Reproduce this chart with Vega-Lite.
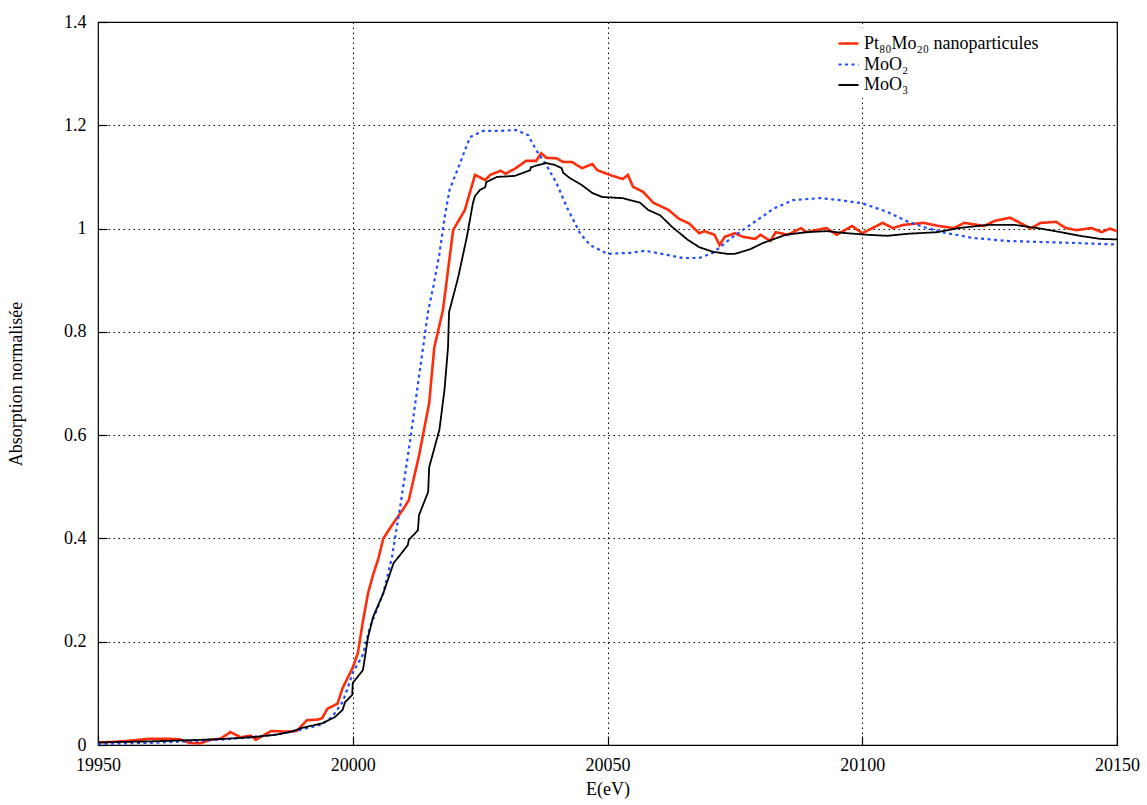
{
  "$schema": "https://vega.github.io/schema/vega-lite/v6.json",
  "width": 1019,
  "height": 723,
  "autosize": {"type": "none"},
  "padding": {"left": 98, "top": 22, "right": 30, "bottom": 60},
  "background": "white",
  "config": {
    "font": "Liberation Serif",
    "view": {"stroke": "black", "strokeWidth": 1.2},
    "axis": {
      "labelFont": "Liberation Serif",
      "titleFont": "Liberation Serif",
      "labelFontSize": 18,
      "titleFontSize": 18,
      "titleFontWeight": "normal",
      "labelColor": "black",
      "titleColor": "black",
      "labelFlush": false,
      "labelOverlap": false,
      "domain": false,
      "grid": true,
      "gridColor": "black",
      "gridDash": [1.5, 3.5],
      "gridWidth": 1,
      "gridOpacity": 1,
      "tickColor": "black",
      "tickSize": -9,
      "tickWidth": 1.2
    },
    "legend": {
      "labelFont": "Liberation Serif",
      "labelFontSize": 18,
      "labelColor": "black",
      "labelLimit": 0
    }
  },
  "data": {
    "values": [
      {"s": "Pt₈₀Mo₂₀ nanoparticules", "E": 19950, "A": 0.005},
      {"s": "Pt₈₀Mo₂₀ nanoparticules", "E": 19953, "A": 0.006},
      {"s": "Pt₈₀Mo₂₀ nanoparticules", "E": 19956, "A": 0.008},
      {"s": "Pt₈₀Mo₂₀ nanoparticules", "E": 19960, "A": 0.012},
      {"s": "Pt₈₀Mo₂₀ nanoparticules", "E": 19964, "A": 0.012},
      {"s": "Pt₈₀Mo₂₀ nanoparticules", "E": 19966, "A": 0.011},
      {"s": "Pt₈₀Mo₂₀ nanoparticules", "E": 19968, "A": 0.004},
      {"s": "Pt₈₀Mo₂₀ nanoparticules", "E": 19970, "A": 0.003},
      {"s": "Pt₈₀Mo₂₀ nanoparticules", "E": 19972, "A": 0.010},
      {"s": "Pt₈₀Mo₂₀ nanoparticules", "E": 19974, "A": 0.012},
      {"s": "Pt₈₀Mo₂₀ nanoparticules", "E": 19976, "A": 0.025},
      {"s": "Pt₈₀Mo₂₀ nanoparticules", "E": 19978, "A": 0.015},
      {"s": "Pt₈₀Mo₂₀ nanoparticules", "E": 19980, "A": 0.018},
      {"s": "Pt₈₀Mo₂₀ nanoparticules", "E": 19981, "A": 0.010},
      {"s": "Pt₈₀Mo₂₀ nanoparticules", "E": 19984, "A": 0.027},
      {"s": "Pt₈₀Mo₂₀ nanoparticules", "E": 19987, "A": 0.026},
      {"s": "Pt₈₀Mo₂₀ nanoparticules", "E": 19989, "A": 0.027},
      {"s": "Pt₈₀Mo₂₀ nanoparticules", "E": 19991, "A": 0.048},
      {"s": "Pt₈₀Mo₂₀ nanoparticules", "E": 19993, "A": 0.049},
      {"s": "Pt₈₀Mo₂₀ nanoparticules", "E": 19994, "A": 0.052},
      {"s": "Pt₈₀Mo₂₀ nanoparticules", "E": 19995, "A": 0.070},
      {"s": "Pt₈₀Mo₂₀ nanoparticules", "E": 19997, "A": 0.080},
      {"s": "Pt₈₀Mo₂₀ nanoparticules", "E": 19998, "A": 0.110},
      {"s": "Pt₈₀Mo₂₀ nanoparticules", "E": 20000, "A": 0.150},
      {"s": "Pt₈₀Mo₂₀ nanoparticules", "E": 20001, "A": 0.178},
      {"s": "Pt₈₀Mo₂₀ nanoparticules", "E": 20002, "A": 0.240},
      {"s": "Pt₈₀Mo₂₀ nanoparticules", "E": 20003, "A": 0.294},
      {"s": "Pt₈₀Mo₂₀ nanoparticules", "E": 20004, "A": 0.330},
      {"s": "Pt₈₀Mo₂₀ nanoparticules", "E": 20005, "A": 0.360},
      {"s": "Pt₈₀Mo₂₀ nanoparticules", "E": 20006, "A": 0.400},
      {"s": "Pt₈₀Mo₂₀ nanoparticules", "E": 20008, "A": 0.430},
      {"s": "Pt₈₀Mo₂₀ nanoparticules", "E": 20010, "A": 0.458},
      {"s": "Pt₈₀Mo₂₀ nanoparticules", "E": 20011, "A": 0.474},
      {"s": "Pt₈₀Mo₂₀ nanoparticules", "E": 20013, "A": 0.560},
      {"s": "Pt₈₀Mo₂₀ nanoparticules", "E": 20015, "A": 0.662},
      {"s": "Pt₈₀Mo₂₀ nanoparticules", "E": 20016, "A": 0.770},
      {"s": "Pt₈₀Mo₂₀ nanoparticules", "E": 20017.7, "A": 0.842},
      {"s": "Pt₈₀Mo₂₀ nanoparticules", "E": 20019.7, "A": 0.997},
      {"s": "Pt₈₀Mo₂₀ nanoparticules", "E": 20022, "A": 1.036},
      {"s": "Pt₈₀Mo₂₀ nanoparticules", "E": 20024, "A": 1.104},
      {"s": "Pt₈₀Mo₂₀ nanoparticules", "E": 20026, "A": 1.094},
      {"s": "Pt₈₀Mo₂₀ nanoparticules", "E": 20027, "A": 1.104},
      {"s": "Pt₈₀Mo₂₀ nanoparticules", "E": 20029, "A": 1.112},
      {"s": "Pt₈₀Mo₂₀ nanoparticules", "E": 20030, "A": 1.106},
      {"s": "Pt₈₀Mo₂₀ nanoparticules", "E": 20032, "A": 1.117},
      {"s": "Pt₈₀Mo₂₀ nanoparticules", "E": 20034, "A": 1.131},
      {"s": "Pt₈₀Mo₂₀ nanoparticules", "E": 20036, "A": 1.131},
      {"s": "Pt₈₀Mo₂₀ nanoparticules", "E": 20037, "A": 1.146},
      {"s": "Pt₈₀Mo₂₀ nanoparticules", "E": 20038, "A": 1.137},
      {"s": "Pt₈₀Mo₂₀ nanoparticules", "E": 20040, "A": 1.136},
      {"s": "Pt₈₀Mo₂₀ nanoparticules", "E": 20041.3, "A": 1.129},
      {"s": "Pt₈₀Mo₂₀ nanoparticules", "E": 20043, "A": 1.129},
      {"s": "Pt₈₀Mo₂₀ nanoparticules", "E": 20045, "A": 1.117},
      {"s": "Pt₈₀Mo₂₀ nanoparticules", "E": 20047, "A": 1.125},
      {"s": "Pt₈₀Mo₂₀ nanoparticules", "E": 20048, "A": 1.113},
      {"s": "Pt₈₀Mo₂₀ nanoparticules", "E": 20051, "A": 1.102},
      {"s": "Pt₈₀Mo₂₀ nanoparticules", "E": 20053, "A": 1.096},
      {"s": "Pt₈₀Mo₂₀ nanoparticules", "E": 20054, "A": 1.104},
      {"s": "Pt₈₀Mo₂₀ nanoparticules", "E": 20055, "A": 1.081},
      {"s": "Pt₈₀Mo₂₀ nanoparticules", "E": 20057, "A": 1.071},
      {"s": "Pt₈₀Mo₂₀ nanoparticules", "E": 20059, "A": 1.050},
      {"s": "Pt₈₀Mo₂₀ nanoparticules", "E": 20062, "A": 1.036},
      {"s": "Pt₈₀Mo₂₀ nanoparticules", "E": 20064, "A": 1.019},
      {"s": "Pt₈₀Mo₂₀ nanoparticules", "E": 20066, "A": 1.010},
      {"s": "Pt₈₀Mo₂₀ nanoparticules", "E": 20068, "A": 0.991},
      {"s": "Pt₈₀Mo₂₀ nanoparticules", "E": 20069, "A": 0.995},
      {"s": "Pt₈₀Mo₂₀ nanoparticules", "E": 20071, "A": 0.988},
      {"s": "Pt₈₀Mo₂₀ nanoparticules", "E": 20072, "A": 0.968},
      {"s": "Pt₈₀Mo₂₀ nanoparticules", "E": 20073, "A": 0.984},
      {"s": "Pt₈₀Mo₂₀ nanoparticules", "E": 20075, "A": 0.991},
      {"s": "Pt₈₀Mo₂₀ nanoparticules", "E": 20076.6, "A": 0.984},
      {"s": "Pt₈₀Mo₂₀ nanoparticules", "E": 20079, "A": 0.980},
      {"s": "Pt₈₀Mo₂₀ nanoparticules", "E": 20080, "A": 0.988},
      {"s": "Pt₈₀Mo₂₀ nanoparticules", "E": 20082, "A": 0.976},
      {"s": "Pt₈₀Mo₂₀ nanoparticules", "E": 20083, "A": 0.993},
      {"s": "Pt₈₀Mo₂₀ nanoparticules", "E": 20085.4, "A": 0.988},
      {"s": "Pt₈₀Mo₂₀ nanoparticules", "E": 20088, "A": 1.001},
      {"s": "Pt₈₀Mo₂₀ nanoparticules", "E": 20089, "A": 0.993},
      {"s": "Pt₈₀Mo₂₀ nanoparticules", "E": 20093, "A": 1.001},
      {"s": "Pt₈₀Mo₂₀ nanoparticules", "E": 20095, "A": 0.988},
      {"s": "Pt₈₀Mo₂₀ nanoparticules", "E": 20098, "A": 1.005},
      {"s": "Pt₈₀Mo₂₀ nanoparticules", "E": 20100, "A": 0.991},
      {"s": "Pt₈₀Mo₂₀ nanoparticules", "E": 20102, "A": 1.001},
      {"s": "Pt₈₀Mo₂₀ nanoparticules", "E": 20104, "A": 1.011},
      {"s": "Pt₈₀Mo₂₀ nanoparticules", "E": 20106, "A": 1.001},
      {"s": "Pt₈₀Mo₂₀ nanoparticules", "E": 20108, "A": 1.007},
      {"s": "Pt₈₀Mo₂₀ nanoparticules", "E": 20112, "A": 1.011},
      {"s": "Pt₈₀Mo₂₀ nanoparticules", "E": 20115, "A": 1.005},
      {"s": "Pt₈₀Mo₂₀ nanoparticules", "E": 20118, "A": 1.001},
      {"s": "Pt₈₀Mo₂₀ nanoparticules", "E": 20120, "A": 1.011},
      {"s": "Pt₈₀Mo₂₀ nanoparticules", "E": 20124, "A": 1.005},
      {"s": "Pt₈₀Mo₂₀ nanoparticules", "E": 20126, "A": 1.015},
      {"s": "Pt₈₀Mo₂₀ nanoparticules", "E": 20129, "A": 1.021},
      {"s": "Pt₈₀Mo₂₀ nanoparticules", "E": 20131, "A": 1.011},
      {"s": "Pt₈₀Mo₂₀ nanoparticules", "E": 20133, "A": 1.000},
      {"s": "Pt₈₀Mo₂₀ nanoparticules", "E": 20135, "A": 1.011},
      {"s": "Pt₈₀Mo₂₀ nanoparticules", "E": 20138, "A": 1.013},
      {"s": "Pt₈₀Mo₂₀ nanoparticules", "E": 20140, "A": 1.001},
      {"s": "Pt₈₀Mo₂₀ nanoparticules", "E": 20142, "A": 0.997},
      {"s": "Pt₈₀Mo₂₀ nanoparticules", "E": 20145, "A": 1.001},
      {"s": "Pt₈₀Mo₂₀ nanoparticules", "E": 20147, "A": 0.993},
      {"s": "Pt₈₀Mo₂₀ nanoparticules", "E": 20148.6, "A": 1.000},
      {"s": "Pt₈₀Mo₂₀ nanoparticules", "E": 20150, "A": 0.995},

      {"s": "MoO₂", "E": 19950, "A": 0.002},
      {"s": "MoO₂", "E": 19955, "A": 0.003},
      {"s": "MoO₂", "E": 19960, "A": 0.004},
      {"s": "MoO₂", "E": 19965, "A": 0.006},
      {"s": "MoO₂", "E": 19970, "A": 0.008},
      {"s": "MoO₂", "E": 19975, "A": 0.011},
      {"s": "MoO₂", "E": 19980, "A": 0.015},
      {"s": "MoO₂", "E": 19985, "A": 0.020},
      {"s": "MoO₂", "E": 19990, "A": 0.030},
      {"s": "MoO₂", "E": 19994, "A": 0.040},
      {"s": "MoO₂", "E": 19996, "A": 0.055},
      {"s": "MoO₂", "E": 19998, "A": 0.083},
      {"s": "MoO₂", "E": 19999, "A": 0.110},
      {"s": "MoO₂", "E": 20000, "A": 0.140},
      {"s": "MoO₂", "E": 20002, "A": 0.175},
      {"s": "MoO₂", "E": 20003.4, "A": 0.229},
      {"s": "MoO₂", "E": 20006, "A": 0.294},
      {"s": "MoO₂", "E": 20007.7, "A": 0.364},
      {"s": "MoO₂", "E": 20009.3, "A": 0.461},
      {"s": "MoO₂", "E": 20011.2, "A": 0.585},
      {"s": "MoO₂", "E": 20012.6, "A": 0.685},
      {"s": "MoO₂", "E": 20014.8, "A": 0.840},
      {"s": "MoO₂", "E": 20015.8, "A": 0.887},
      {"s": "MoO₂", "E": 20017, "A": 0.950},
      {"s": "MoO₂", "E": 20018, "A": 1.020},
      {"s": "MoO₂", "E": 20019, "A": 1.075},
      {"s": "MoO₂", "E": 20020, "A": 1.100},
      {"s": "MoO₂", "E": 20021, "A": 1.125},
      {"s": "MoO₂", "E": 20023, "A": 1.177},
      {"s": "MoO₂", "E": 20025.6, "A": 1.189},
      {"s": "MoO₂", "E": 20029, "A": 1.189},
      {"s": "MoO₂", "E": 20032, "A": 1.191},
      {"s": "MoO₂", "E": 20034.4, "A": 1.181},
      {"s": "MoO₂", "E": 20036, "A": 1.152},
      {"s": "MoO₂", "E": 20038, "A": 1.123},
      {"s": "MoO₂", "E": 20040, "A": 1.088},
      {"s": "MoO₂", "E": 20042, "A": 1.042},
      {"s": "MoO₂", "E": 20044.6, "A": 0.991},
      {"s": "MoO₂", "E": 20046.6, "A": 0.968},
      {"s": "MoO₂", "E": 20050, "A": 0.951},
      {"s": "MoO₂", "E": 20054.4, "A": 0.953},
      {"s": "MoO₂", "E": 20057.4, "A": 0.957},
      {"s": "MoO₂", "E": 20061.7, "A": 0.949},
      {"s": "MoO₂", "E": 20064.8, "A": 0.943},
      {"s": "MoO₂", "E": 20068, "A": 0.943},
      {"s": "MoO₂", "E": 20070.7, "A": 0.953},
      {"s": "MoO₂", "E": 20074.6, "A": 0.984},
      {"s": "MoO₂", "E": 20078.6, "A": 1.011},
      {"s": "MoO₂", "E": 20082.5, "A": 1.038},
      {"s": "MoO₂", "E": 20086.4, "A": 1.055},
      {"s": "MoO₂", "E": 20091.7, "A": 1.059},
      {"s": "MoO₂", "E": 20095.6, "A": 1.055},
      {"s": "MoO₂", "E": 20100, "A": 1.049},
      {"s": "MoO₂", "E": 20105, "A": 1.032},
      {"s": "MoO₂", "E": 20109, "A": 1.013},
      {"s": "MoO₂", "E": 20112.7, "A": 1.001},
      {"s": "MoO₂", "E": 20116.6, "A": 0.991},
      {"s": "MoO₂", "E": 20121.7, "A": 0.982},
      {"s": "MoO₂", "E": 20128.4, "A": 0.976},
      {"s": "MoO₂", "E": 20135, "A": 0.974},
      {"s": "MoO₂", "E": 20142, "A": 0.972},
      {"s": "MoO₂", "E": 20150, "A": 0.969},

      {"s": "MoO₃", "E": 19950, "A": 0.005},
      {"s": "MoO₃", "E": 19960, "A": 0.007},
      {"s": "MoO₃", "E": 19970, "A": 0.010},
      {"s": "MoO₃", "E": 19975, "A": 0.012},
      {"s": "MoO₃", "E": 19980, "A": 0.015},
      {"s": "MoO₃", "E": 19985, "A": 0.020},
      {"s": "MoO₃", "E": 19988, "A": 0.026},
      {"s": "MoO₃", "E": 19990, "A": 0.033},
      {"s": "MoO₃", "E": 19994, "A": 0.042},
      {"s": "MoO₃", "E": 19996.5, "A": 0.054},
      {"s": "MoO₃", "E": 19998, "A": 0.068},
      {"s": "MoO₃", "E": 19998.5, "A": 0.083},
      {"s": "MoO₃", "E": 19999.9, "A": 0.097},
      {"s": "MoO₃", "E": 20000, "A": 0.120},
      {"s": "MoO₃", "E": 20002, "A": 0.145},
      {"s": "MoO₃", "E": 20003, "A": 0.209},
      {"s": "MoO₃", "E": 20004, "A": 0.248},
      {"s": "MoO₃", "E": 20006, "A": 0.294},
      {"s": "MoO₃", "E": 20008, "A": 0.352},
      {"s": "MoO₃", "E": 20009.3, "A": 0.368},
      {"s": "MoO₃", "E": 20010.8, "A": 0.387},
      {"s": "MoO₃", "E": 20011, "A": 0.397},
      {"s": "MoO₃", "E": 20012.8, "A": 0.416},
      {"s": "MoO₃", "E": 20013, "A": 0.445},
      {"s": "MoO₃", "E": 20014.8, "A": 0.490},
      {"s": "MoO₃", "E": 20015, "A": 0.538},
      {"s": "MoO₃", "E": 20017, "A": 0.610},
      {"s": "MoO₃", "E": 20018, "A": 0.687},
      {"s": "MoO₃", "E": 20018.7, "A": 0.770},
      {"s": "MoO₃", "E": 20018.9, "A": 0.838},
      {"s": "MoO₃", "E": 20020.7, "A": 0.906},
      {"s": "MoO₃", "E": 20022.4, "A": 0.984},
      {"s": "MoO₃", "E": 20023.6, "A": 1.050},
      {"s": "MoO₃", "E": 20024, "A": 1.063},
      {"s": "MoO₃", "E": 20025, "A": 1.075},
      {"s": "MoO₃", "E": 20026, "A": 1.080},
      {"s": "MoO₃", "E": 20026.2, "A": 1.090},
      {"s": "MoO₃", "E": 20028.3, "A": 1.100},
      {"s": "MoO₃", "E": 20031.8, "A": 1.102},
      {"s": "MoO₃", "E": 20034.8, "A": 1.113},
      {"s": "MoO₃", "E": 20035, "A": 1.119},
      {"s": "MoO₃", "E": 20038, "A": 1.127},
      {"s": "MoO₃", "E": 20039.7, "A": 1.123},
      {"s": "MoO₃", "E": 20041, "A": 1.117},
      {"s": "MoO₃", "E": 20041.3, "A": 1.108},
      {"s": "MoO₃", "E": 20042.6, "A": 1.098},
      {"s": "MoO₃", "E": 20045, "A": 1.084},
      {"s": "MoO₃", "E": 20047, "A": 1.069},
      {"s": "MoO₃", "E": 20049, "A": 1.061},
      {"s": "MoO₃", "E": 20053, "A": 1.059},
      {"s": "MoO₃", "E": 20056.4, "A": 1.050},
      {"s": "MoO₃", "E": 20058, "A": 1.036},
      {"s": "MoO₃", "E": 20060.3, "A": 1.026},
      {"s": "MoO₃", "E": 20062.7, "A": 1.003},
      {"s": "MoO₃", "E": 20065.8, "A": 0.978},
      {"s": "MoO₃", "E": 20068, "A": 0.964},
      {"s": "MoO₃", "E": 20070.7, "A": 0.955},
      {"s": "MoO₃", "E": 20073.5, "A": 0.951},
      {"s": "MoO₃", "E": 20075, "A": 0.951},
      {"s": "MoO₃", "E": 20078, "A": 0.960},
      {"s": "MoO₃", "E": 20080.5, "A": 0.972},
      {"s": "MoO₃", "E": 20085, "A": 0.988},
      {"s": "MoO₃", "E": 20089, "A": 0.993},
      {"s": "MoO₃", "E": 20093, "A": 0.995},
      {"s": "MoO₃", "E": 20097, "A": 0.991},
      {"s": "MoO₃", "E": 20101, "A": 0.988},
      {"s": "MoO₃", "E": 20105, "A": 0.986},
      {"s": "MoO₃", "E": 20109, "A": 0.990},
      {"s": "MoO₃", "E": 20114.7, "A": 0.993},
      {"s": "MoO₃", "E": 20119, "A": 1.001},
      {"s": "MoO₃", "E": 20124.5, "A": 1.007},
      {"s": "MoO₃", "E": 20130, "A": 1.007},
      {"s": "MoO₃", "E": 20135, "A": 1.000},
      {"s": "MoO₃", "E": 20139, "A": 0.993},
      {"s": "MoO₃", "E": 20142.7, "A": 0.986},
      {"s": "MoO₃", "E": 20146.7, "A": 0.980},
      {"s": "MoO₃", "E": 20150, "A": 0.979}
    ]
  },
  "mark": {"type": "line", "clip": true},
  "encoding": {
    "x": {
      "field": "E",
      "type": "quantitative",
      "scale": {"domain": [19950, 20150], "nice": false, "zero": false},
      "axis": {
        "title": "E(eV)",
        "values": [19950, 20000, 20050, 20100, 20150],
        "format": "d",
        "labelPadding": 20,
        "titlePadding": 6
      }
    },
    "y": {
      "field": "A",
      "type": "quantitative",
      "scale": {"domain": [0, 1.4], "nice": false},
      "axis": {
        "title": "Absorption normalisée",
        "values": [0, 0.2, 0.4, 0.6, 0.8, 1, 1.2, 1.4],
        "format": ".1~f",
        "labelPadding": 21,
        "titlePadding": 38
      }
    },
    "color": {
      "field": "s",
      "type": "nominal",
      "scale": {
        "domain": ["Pt₈₀Mo₂₀ nanoparticules", "MoO₂", "MoO₃"],
        "range": ["#ff2d0a", "#1f4bff", "#000000"]
      },
      "legend": {
        "title": null,
        "orient": "none",
        "legendX": 735,
        "legendY": 6,
        "fillColor": "white",
        "padding": 4,
        "symbolType": "stroke",
        "symbolSize": 400,
        "labelFontSize": 18,
        "rowPadding": 0
      }
    },
    "strokeDash": {
      "field": "s",
      "type": "nominal",
      "scale": {
        "domain": ["Pt₈₀Mo₂₀ nanoparticules", "MoO₂", "MoO₃"],
        "range": [[1, 0], [3, 3.5], [1, 0]]
      },
      "legend": {"title": null}
    },
    "strokeWidth": {
      "field": "s",
      "type": "nominal",
      "scale": {
        "domain": ["Pt₈₀Mo₂₀ nanoparticules", "MoO₂", "MoO₃"],
        "range": [2.6, 1.8, 1.4]
      },
      "legend": {"title": null}
    }
  }
}
